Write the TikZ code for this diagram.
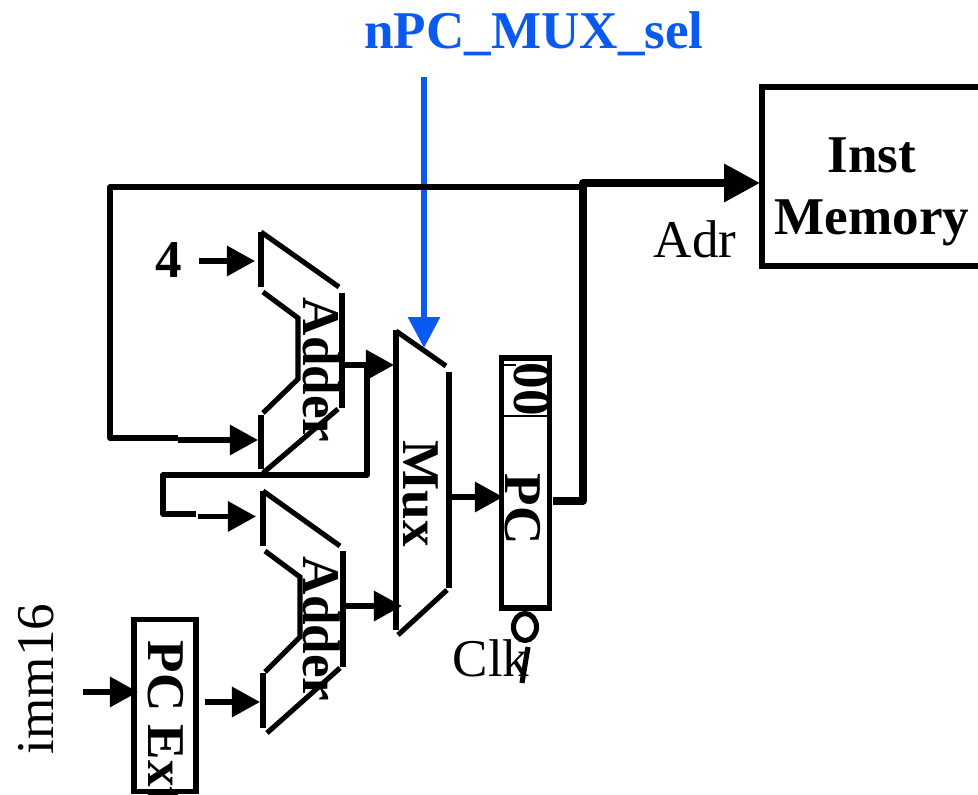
\documentclass[tikz,border=0pt]{standalone}
\usepackage{fontspec}
\setmainfont{Liberation Serif}
\usetikzlibrary{arrows.meta, positioning, shapes.geometric}

\definecolor{ctlblue}{RGB}{10,90,240}

\tikzset{
    wire/.style={line width=1.45pt},
    sig/.style={line width=1.45pt, -{Triangle[length=8pt,width=8.4pt]}},
    bus/.style={line width=2.2pt, -{Triangle[length=10.2pt,width=10.4pt]}},
    ctl/.style={line width=1.7pt, color=ctlblue, -{Triangle[length=8.8pt,width=8.8pt]}},
    lbl/.style={inner sep=0pt, font=\fontsize{15.1}{17.6}\selectfont},
    blbl/.style={lbl, font=\fontsize{15.1}{17.6}\bfseries\selectfont},
    vlbl/.style={blbl, rotate=-90, anchor=base west},
    block/.style={draw, line width=1.6pt, inner sep=0pt}
}

\begin{document}
\begin{tikzpicture}[x=0.01cm, y=-0.01cm]
    \useasboundingbox (0,0) rectangle (978,795);

    % Nodes
    \node[blbl, text=ctlblue] (sel) at (534,34) {nPC\_MUX\_sel};
    \node[block, minimum width=2.2cm, minimum height=1.79cm] (imem) at (872,176.5) {};
    \node[blbl, align=center] (imemtxt) at (872,192) {Inst\\Memory};
    \node[lbl, anchor=base west] (adr) at (653,258) {Adr};
    \node[blbl] (four) at (169,260) {4};
    \node[vlbl] (add1txt) at (303,297) {Adder};
    \node[vlbl] (add2txt) at (304,556) {Adder};
    \node[vlbl] (muxtxt) at (403,440) {Mux};
    \node[block, minimum width=0.48cm, minimum height=2.495cm] (pc) at (525.5,483) {};
    \node[vlbl] (zeros) at (514,362) {00};
    \node[vlbl] (pctxt) at (505,473) {PC};
    \node[lbl, anchor=base west] (clk) at (452,677) {Clk};
    \node[draw, wire, ellipse, minimum width=0.23cm, minimum height=0.27cm, inner sep=0pt] (bubble) at (525,627) {};
    \node[block, minimum width=0.62cm, minimum height=1.72cm] (ext) at (165,705.5) {};
    \node[vlbl] (exttxt) at (149,640) {PC Ext};
    \node[lbl, rotate=90, anchor=base west] (imm) at (54,755) {imm16};

    % Ports
    \coordinate (selin) at (424,77);
    \coordinate (muxtop) at (424,348);
    \coordinate (pcout) at (553,501);
    \coordinate (imemin) at (760,183);
    \coordinate (fourin) at (199,261);
    \coordinate (add1a) at (255,261);
    \coordinate (add1b) at (258,440);
    \coordinate (add2a) at (256,516.5);
    \coordinate (add2b) at (260,702);
    \coordinate (add1out) at (342,365);
    \coordinate (add2out) at (343,606);
    \coordinate (muxa) at (394,365);
    \coordinate (muxb) at (402,606);
    \coordinate (muxout) at (449,497);
    \coordinate (pcin) at (503,497);
    \coordinate (immin) at (83,692);
    \coordinate (extin) at (138,692);
    \coordinate (extout) at (205,702);

    % Adders
    \draw[wire] (261,232) -- (261,287);
    \draw[wire] (261,232) -- (339,287);
    \draw[wire] (342,293) -- (342,408);
    \draw[wire] (263,292) -- (298,318) -- (298,379) -- (263,413);
    \draw[wire] (261,415) -- (261,469);
    \draw[wire] (263,473) -- (338,409);

    \draw[wire] (263,491) -- (263,546);
    \draw[wire] (263,491) -- (340,546);
    \draw[wire] (343,551) -- (343,667);
    \draw[wire] (265,551) -- (300,577) -- (300,637) -- (265,672);
    \draw[wire] (263,673) -- (263,728);
    \draw[wire] (267,733) -- (340,668);

    % Mux
    \draw[wire] (396,330) -- (396,630);
    \draw[wire] (396,331) -- (446,366);
    \draw[wire] (449,372) -- (449,588);
    \draw[wire] (398,635) -- (447,590);

    % Edges
    \draw[ctl] (selin) -- (muxtop);
    \draw[bus, line join=round] (pcout) -- (583,501) -- (583,183) -- (imemin);
    \draw[wire, line join=round] (583,187) -- (110,187) -- (110,438) -- (178,438);
    \draw[sig] (178,440) -- (add1b);
    \draw[sig] (fourin) -- (add1a);
    \draw[sig] (add1out) -- (muxa);
    \draw[wire, line join=round] (367,365) -- (367,475) -- (163,475) -- (163,514) -- (196,514);
    \draw[sig] (198,516.5) -- (add2a);
    \draw[sig] (add2out) -- (muxb);
    \draw[sig] (muxout) -- (pcin);
    \draw[sig] (immin) -- (extin);
    \draw[sig] (extout) -- (add2b);

    % Register marks
    \draw[line width=0.4pt] (502,416) -- (550,416);
    \draw[line width=0.4pt] (502,365) -- (516,365);
    \draw[wire] (528,647) -- (522,683);
\end{tikzpicture}
\end{document}
